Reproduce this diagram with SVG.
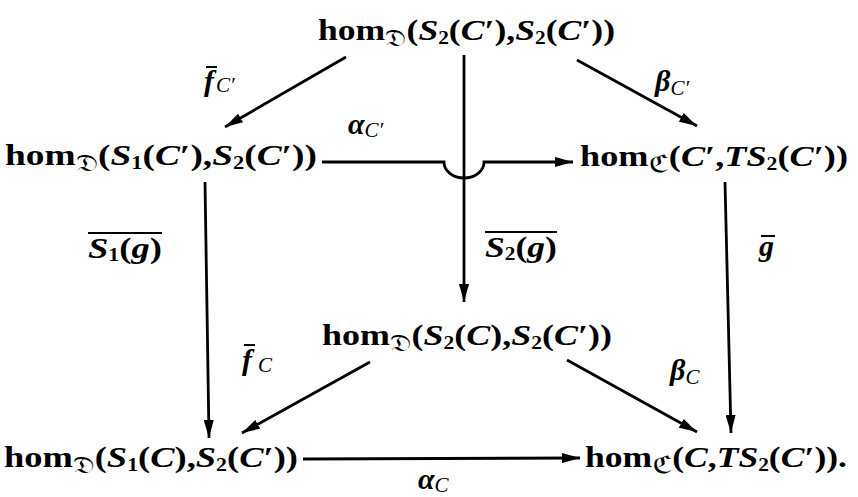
<svg xmlns="http://www.w3.org/2000/svg" width="858" height="497" viewBox="0 0 858 497">
<style>
.t{font-family:"Liberation Serif","DejaVu Serif",serif;font-size:30px;font-weight:bold;fill:#000}
.i{font-style:italic}
.s{font-size:18px}
.fr{font-family:"DejaVu Sans","DejaVu Serif",serif;font-size:24px;font-weight:normal}
.l{font-family:"Liberation Serif","DejaVu Serif",serif;font-size:30px;font-style:italic;font-weight:bold;fill:#000}
.ls{font-size:21px;font-weight:normal}
.u{font-style:normal}
.e{stroke:#000;stroke-width:2.8;fill:none}
.ov{stroke:#000;stroke-width:2}
</style>
<defs>
<marker id="ah" markerUnits="userSpaceOnUse" markerWidth="19" markerHeight="10" refX="18" refY="5" orient="auto">
<path d="M0,0 L18,5 L0,10 Z" fill="#000"/>
</marker>
</defs>
<rect width="858" height="497" fill="#fff"/>

<g id="connectors">
<line class="e" x1="346" y1="57" x2="225" y2="127" marker-end="url(#ah)"/>
<line class="e" x1="577" y1="60" x2="697" y2="126" marker-end="url(#ah)"/>
<line class="e" x1="464" y1="55" x2="464" y2="302" marker-end="url(#ah)"/>
<path class="e" d="M322,162 L444,162 A20,16 0 0 0 484,162 L573,162" marker-end="url(#ah)"/>
<line class="e" x1="205" y1="182" x2="209" y2="438" marker-end="url(#ah)"/>
<line class="e" x1="725" y1="182" x2="731" y2="433" marker-end="url(#ah)"/>
<line class="e" x1="370" y1="362" x2="242" y2="433" marker-end="url(#ah)"/>
<line class="e" x1="567" y1="360" x2="697" y2="432" marker-end="url(#ah)"/>
<line class="e" x1="303" y1="459" x2="580" y2="458" marker-end="url(#ah)"/>
</g>

<g id="labels">
<g id="lbl-fCp"><text class="l" x="204" y="91">f<tspan class="ls" dx="2" dy="1">C′</tspan></text><line class="ov" x1="206" y1="67" x2="217" y2="67"/></g>
<g id="lbl-bCp"><text class="l" x="655" y="91">β<tspan class="ls" dy="4">C′</tspan></text></g>
<g id="lbl-aCp"><text class="l" x="348" y="134">α<tspan class="ls" dy="3">C′</tspan></text></g>
<g id="lbl-S1g"><text class="l" x="88" y="258" textLength="74" lengthAdjust="spacingAndGlyphs">S<tspan class="s u" dy="3">1</tspan><tspan class="u" dy="-3">(</tspan>g<tspan class="u">)</tspan></text><line class="ov" x1="88" y1="233" x2="162" y2="233"/></g>
<g id="lbl-S2g"><text class="l" x="485" y="257" textLength="72" lengthAdjust="spacingAndGlyphs">S<tspan class="s u" dy="3">2</tspan><tspan class="u" dy="-3">(</tspan>g<tspan class="u">)</tspan></text><line class="ov" x1="485" y1="232" x2="557" y2="232"/></g>
<g id="lbl-g"><text class="l" x="759" y="256">g</text><line class="ov" x1="761" y1="236" x2="775" y2="236"/></g>
<g id="lbl-fC"><text class="l" x="242" y="370">f<tspan class="ls" dx="6" dy="2">C</tspan></text><line class="ov" x1="244" y1="345" x2="255" y2="345"/></g>
<g id="lbl-bC"><text class="l" x="670" y="380">β<tspan class="ls" dy="4">C</tspan></text></g>
<g id="lbl-aC"><text class="l" x="418" y="489">α<tspan class="ls" dy="3">C</tspan></text></g>
</g>

<g id="n-top"><text class="t" x="318" y="40" textLength="297" lengthAdjust="spacingAndGlyphs">hom<tspan class="fr" dy="6">𝔇</tspan><tspan dy="-6">(</tspan><tspan class="i">S</tspan><tspan class="s" dy="4">2</tspan><tspan dy="-4">(</tspan><tspan class="i">C</tspan>′),<tspan class="i">S</tspan><tspan class="s" dy="4">2</tspan><tspan dy="-4">(</tspan><tspan class="i">C</tspan>′))</text></g>

<g id="n-midleft"><text class="t" x="5" y="165" textLength="312" lengthAdjust="spacingAndGlyphs">hom<tspan class="fr" dy="6">𝔇</tspan><tspan dy="-6">(</tspan><tspan class="i">S</tspan><tspan class="s" dy="4">1</tspan><tspan dy="-4">(</tspan><tspan class="i">C</tspan>′),<tspan class="i">S</tspan><tspan class="s" dy="4">2</tspan><tspan dy="-4">(</tspan><tspan class="i">C</tspan>′))</text></g>

<g id="n-midright"><text class="t" x="580" y="166" textLength="268" lengthAdjust="spacingAndGlyphs">hom<tspan class="fr" dy="6">ℭ</tspan><tspan dy="-6">(</tspan><tspan class="i">C</tspan>′,<tspan class="i">TS</tspan><tspan class="s" dy="4">2</tspan><tspan dy="-4">(</tspan><tspan class="i">C</tspan>′))</text></g>

<g id="n-center"><text class="t" x="322" y="345" textLength="290" lengthAdjust="spacingAndGlyphs">hom<tspan class="fr" dy="6">𝔇</tspan><tspan dy="-6">(</tspan><tspan class="i">S</tspan><tspan class="s" dy="4">2</tspan><tspan dy="-4">(</tspan><tspan class="i">C</tspan>),<tspan class="i">S</tspan><tspan class="s" dy="4">2</tspan><tspan dy="-4">(</tspan><tspan class="i">C</tspan>′))</text></g>

<g id="n-botleft"><text class="t" x="4" y="467" textLength="294" lengthAdjust="spacingAndGlyphs">hom<tspan class="fr" dy="6">𝔇</tspan><tspan dy="-6">(</tspan><tspan class="i">S</tspan><tspan class="s" dy="4">1</tspan><tspan dy="-4">(</tspan><tspan class="i">C</tspan>),<tspan class="i">S</tspan><tspan class="s" dy="4">2</tspan><tspan dy="-4">(</tspan><tspan class="i">C</tspan>′))</text></g>

<g id="n-botright"><text class="t" x="585" y="467" textLength="262" lengthAdjust="spacingAndGlyphs">hom<tspan class="fr" dy="6">ℭ</tspan><tspan dy="-6">(</tspan><tspan class="i">C</tspan>,<tspan class="i">TS</tspan><tspan class="s" dy="4">2</tspan><tspan dy="-4">(</tspan><tspan class="i">C</tspan>′)).</text></g>
</svg>
